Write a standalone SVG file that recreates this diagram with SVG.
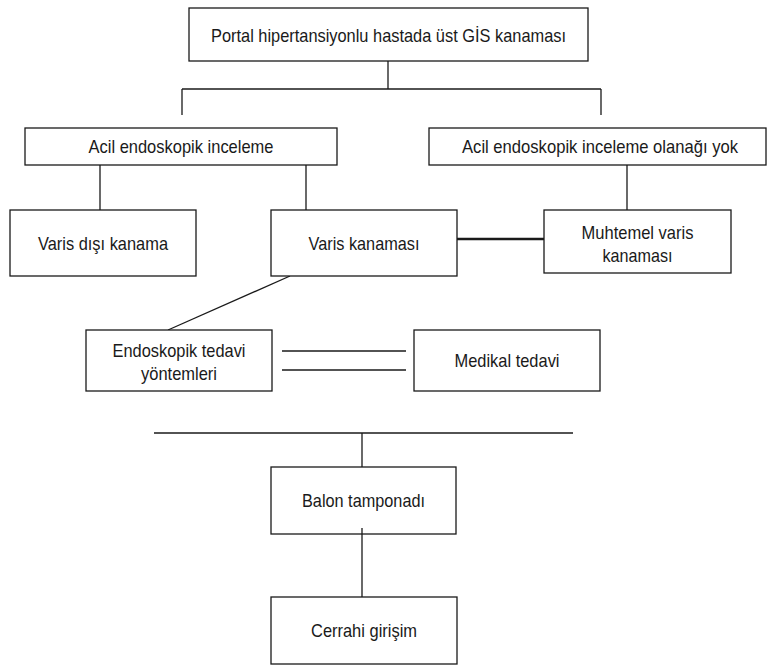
<svg xmlns="http://www.w3.org/2000/svg" width="768" height="666" viewBox="0 0 768 666">
<style>
.box{fill:#fff;stroke:#1a1a1a;stroke-width:1.3}
.t{font-family:"Liberation Sans",Arial,sans-serif;font-size:19px;fill:#1a1a1a;text-anchor:middle}
.c{stroke:#1a1a1a;stroke-width:1.3;fill:none}
.thick{stroke:#1a1a1a;stroke-width:2.6;fill:none}
</style>
<rect width="768" height="666" fill="#fff"/>
<g id="connectors">
<line class="c" x1="388" y1="61" x2="388" y2="89"/>
<line class="c" x1="182" y1="89" x2="601" y2="89"/>
<line class="c" x1="182" y1="89" x2="182" y2="115"/>
<line class="c" x1="601" y1="89" x2="601" y2="115"/>
<line class="c" x1="100" y1="165" x2="100" y2="210"/>
<line class="c" x1="306" y1="165" x2="306" y2="210"/>
<line class="c" x1="627" y1="165" x2="627" y2="210"/>
<line class="thick" x1="457" y1="239" x2="544" y2="239"/>
<line class="c" x1="290" y1="276" x2="168" y2="330"/>
<line class="c" x1="282" y1="351" x2="406" y2="351"/>
<line class="c" x1="282" y1="370" x2="406" y2="370"/>
<line class="c" x1="154" y1="433" x2="573" y2="433"/>
<line class="c" x1="362" y1="433" x2="362" y2="467"/>
</g>
<g id="n_top"><rect class="box" x="189" y="8" width="399" height="53"/><text class="t" x="388.5" y="41.5" textLength="355" lengthAdjust="spacingAndGlyphs">Portal hipertansiyonlu hastada üst GİS kanaması</text></g>
<g id="n_acil"><rect class="box" x="25" y="128" width="312" height="37"/><text class="t" x="181" y="153" textLength="185" lengthAdjust="spacingAndGlyphs">Acil endoskopik inceleme</text></g>
<g id="n_olanak"><rect class="box" x="429" y="128" width="337" height="37"/><text class="t" x="600" y="153" textLength="276" lengthAdjust="spacingAndGlyphs">Acil endoskopik inceleme olanağı yok</text></g>
<g id="n_varisdisi"><rect class="box" x="10" y="210" width="186" height="66"/><text class="t" x="103" y="249.5" textLength="130" lengthAdjust="spacingAndGlyphs">Varis dışı kanama</text></g>
<g id="n_varis"><rect class="box" x="271" y="210" width="186" height="66"/><text class="t" x="364" y="249.5" textLength="111" lengthAdjust="spacingAndGlyphs">Varis kanaması</text></g>
<g id="n_muhtemel"><rect class="box" x="544" y="210" width="187" height="63"/><text class="t" x="637.5" y="238.5" textLength="112" lengthAdjust="spacingAndGlyphs">Muhtemel varis</text><text class="t" x="637.5" y="262" textLength="70" lengthAdjust="spacingAndGlyphs">kanaması</text></g>
<g id="n_endoskopik"><rect class="box" x="86" y="330" width="186" height="61"/><text class="t" x="179" y="357" textLength="133" lengthAdjust="spacingAndGlyphs">Endoskopik tedavi</text><text class="t" x="179" y="380" textLength="76" lengthAdjust="spacingAndGlyphs">yöntemleri</text></g>
<g id="n_medikal"><rect class="box" x="414" y="330" width="186" height="61"/><text class="t" x="507" y="367" textLength="105" lengthAdjust="spacingAndGlyphs">Medikal tedavi</text></g>
<g id="n_balon"><rect class="box" x="271" y="467" width="185" height="67"/><text class="t" x="363.5" y="507" textLength="123" lengthAdjust="spacingAndGlyphs">Balon tamponadı</text></g>
<g id="n_cerrahi"><rect class="box" x="271" y="597" width="186" height="67"/><text class="t" x="364" y="637" textLength="106" lengthAdjust="spacingAndGlyphs">Cerrahi girişim</text></g>
<g id="connectors2"><line class="c" x1="362" y1="528" x2="362" y2="597"/></g>
</svg>
